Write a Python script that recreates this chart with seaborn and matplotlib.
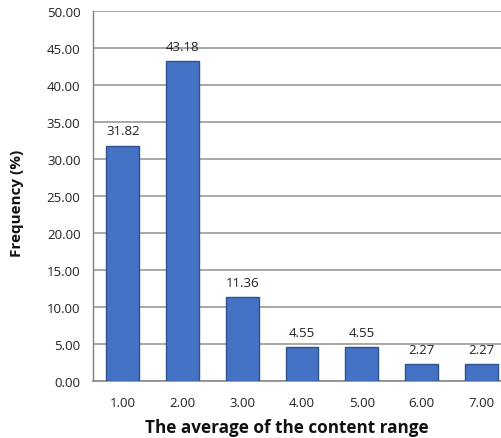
import matplotlib
matplotlib.use("Agg")
import matplotlib.pyplot as plt
import seaborn as sns
import pandas as pd

categories = ["1.00", "2.00", "3.00", "4.00", "5.00", "6.00", "7.00"]
frequency = [31.82, 43.18, 11.36, 4.55, 4.55, 2.27, 2.27]
y_ticks = [0, 5, 10, 15, 20, 25, 30, 35, 40, 45, 50]

df = pd.DataFrame({"range": categories, "freq": frequency})

sns.set_style("white")
plt.rcParams["font.family"] = ["Open Sans", "DejaVu Sans"]

fig = plt.figure(figsize=(5.02, 4.39), dpi=100)
ax = fig.add_axes([93 / 502, 57 / 439, 418 / 502, 370 / 439])

sns.barplot(data=df, x="range", y="freq", color="#4472C4", saturation=1,
            width=0.55, edgecolor="#2F528F", linewidth=1.0, ax=ax, zorder=3)

for i, v in enumerate(frequency):
    ax.text(i, v + 1.1, f"{v:.2f}", ha="center", va="bottom", fontsize=9.5,
            color="#222222", zorder=4)

ax.set_ylim(0, 50)
ax.set_xlim(-0.5, len(categories) - 0.5)
ax.set_yticks(y_ticks)
ax.set_yticklabels([f"{t:.2f}" for t in y_ticks])
ax.yaxis.grid(True, color="#9a9a9a", linewidth=1.2, zorder=0)
ax.set_axisbelow(True)

for s in ["top", "right"]:
    ax.spines[s].set_visible(False)
ax.spines["left"].set_color("#7f7f7f")
ax.spines["left"].set_linewidth(1.0)
ax.spines["bottom"].set_color("#8a8a8a")
ax.spines["bottom"].set_linewidth(1.2)

ax.tick_params(axis="both", length=0, labelsize=9.5, colors="#222222")
ax.tick_params(axis="x", pad=11)
ax.tick_params(axis="y", pad=9)

ax.set_xlabel("The average of the content range", fontsize=12.3, fontweight="bold",
              color="#111111", va="center")
ax.set_ylabel("Frequency (%)", fontsize=11, fontweight="bold",
              color="#111111", va="center")
ax.xaxis.set_label_coords(194 / 418, -46 / 370)
ax.yaxis.set_label_coords(-76 / 418, 179 / 370)

fig.savefig("out.png", dpi=100)
